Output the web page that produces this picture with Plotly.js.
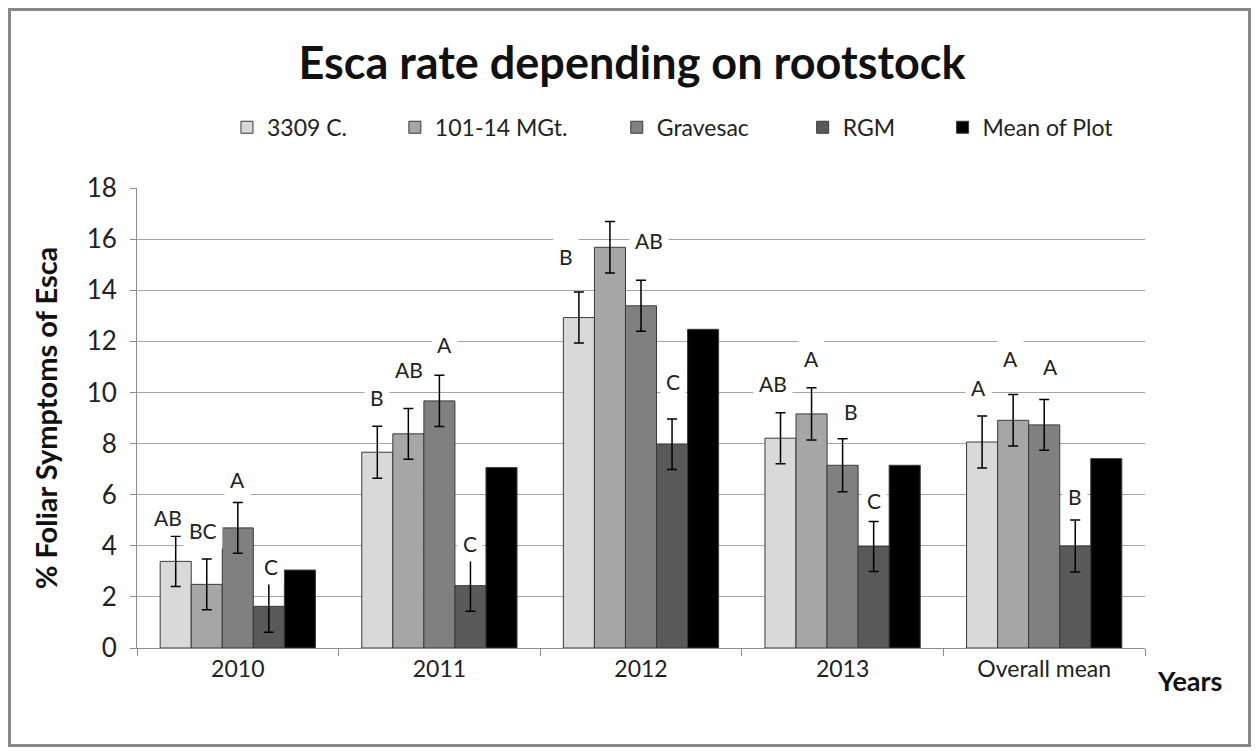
<!DOCTYPE html>
<html>
<head>
<meta charset="utf-8">
<script src="https://cdn.plot.ly/plotly-3.0.1.min.js"></script>
<style>
  html, body { margin: 0; padding: 0; background: #fff; }
  #wrap { position: relative; width: 1257px; height: 751px; }
  #chart { position: absolute; left: 0; top: 0; width: 1257px; height: 751px; }
  #frame { position: absolute; left: 8px; top: 8px; width: 1243px; height: 739px;
           border: 3px solid #878787; box-sizing: border-box; pointer-events: none; }
</style>
</head>
<body>
<div id="wrap"><div id="chart"></div><div id="frame"></div></div>
<script>
// ---- data ----
const categories = ['2010', '2011', '2012', '2013', 'Overall mean'];
const seriesNames = ['3309 C.', '101-14 MGt.', 'Gravesac', 'RGM', 'Mean of Plot'];
const v3309 = [3.39, 7.66, 12.93, 8.21, 8.06];
const v10114 = [2.49, 8.38, 15.68, 9.16, 8.91];
const vGravesac = [4.70, 9.67, 13.39, 7.15, 8.73];
const vRGM = [1.63, 2.44, 7.97, 3.97, 3.99];
const vMean = [3.05, 7.06, 12.47, 7.15, 7.41];
const e3309 = [0.98, 1.02, 1.0, 1.0, 1.02];
const e10114 = [0.99, 0.99, 1.01, 1.02, 1.01];
const eGravesac = [0.99, 1.0, 1.0, 1.04, 0.99];
const eRGM = [1.01, 1.0, 0.99, 0.98, 1.02];
const l3309 = ['AB', 'B', 'B', 'AB', 'A'];
const l10114 = ['BC', 'AB', 'A', 'A', 'A'];
const lGravesac = ['A', 'A', 'AB', 'B', 'A'];
const lRGM = ['C', 'C', 'C', 'C', 'B'];

// ---- styling / layout helpers ----
const FONT = 'Lato, "Open Sans", sans-serif';
const colors = ['#d9d9d9', '#a6a6a6', '#808080', '#595959', '#000000'];
const values = [v3309, v10114, vGravesac, vRGM, vMean];
const errors = [e3309, e10114, eGravesac, eRGM, null];
const letters = [l3309, l10114, lGravesac, lRGM];
// label nudges: horizontal (px) and vertical gap above error bar top (axis units)
const nudgeX = [[-8, 0, -13, -8, -4], [-4, 1, 0, 0, -3], [0, 5, 8, 8, 6], [2, 0, 1, 0, 0]];
const nudgeY = [[0.72, 1.14, 1.40, 1.14, 1.11], [1.13, 1.53, 1.64, 1.15, 1.41],
                [0.91, 1.22, 1.57, 1.07, 1.31], [0.53, 0.65, 1.45, 0.83, 0.90]];

const M = { l: 137, r: 111.5, t: 187.7, b: 103.3 };
const plotW = 1257 - M.l - M.r;
const plotH = 751 - M.t - M.b;
const bargap = 0.23;
const catPx = plotW / categories.length;
const barFrac = (1 - bargap) / seriesNames.length;

const traces = seriesNames.map((name, i) => {
  const t = {
    type: 'bar', name: name, x: categories, y: values[i],
    marker: { color: colors[i], line: { color: '#3a3a3a', width: 1 } },
    legend: i === 0 ? 'legend' : 'legend' + (i + 1),
    hoverinfo: 'x+y+name'
  };
  if (errors[i]) {
    t.error_y = { type: 'data', array: errors[i], visible: true, color: '#000', thickness: 1.5, width: 5 };
  }
  return t;
});

const annotations = [];
letters.forEach((arr, s) => {
  arr.forEach((txt, c) => {
    annotations.push({
      x: c + (s - 2) * barFrac + nudgeX[s][c] / catPx,
      xref: 'x', yref: 'y',
      y: values[s][c] + errors[s][c] + nudgeY[s][c],
      text: txt, showarrow: false, xanchor: 'center', yanchor: 'middle',
      font: { family: FONT, size: 21, color: '#222' },
      bgcolor: '#ffffff', borderpad: 5
    });
  });
});
annotations.push({
  x: (1190 - M.l) / plotW, y: -(680 - (751 - M.b)) / plotH,
  xref: 'paper', yref: 'paper', text: 'Years', showarrow: false,
  xanchor: 'center', yanchor: 'middle',
  font: { family: FONT, size: 27, color: '#111', weight: 'bold' }
});

// legend positions (text start px)
const legTextX = [267, 435, 657, 843, 983];
const legY = (751 - M.b - 127) / plotH;
const layout = {
  width: 1257, height: 751,
  margin: M,
  paper_bgcolor: '#fff', plot_bgcolor: '#fff',
  font: { family: FONT, color: '#222' },
  title: { text: 'Esca rate depending on rootstock', xref: 'container', yref: 'container',
           x: 632 / 1257, y: 1 - 63 / 751, xanchor: 'center', yanchor: 'middle',
           font: { family: FONT, size: 45, color: '#111', weight: 'bold' } },
  barmode: 'group', bargap: bargap, bargroupgap: 0,
  xaxis: { type: 'category', showgrid: false, showline: true, linecolor: '#8c8c8c', linewidth: 1,
           ticks: 'outside', tickson: 'boundaries', ticklen: 7, tickcolor: '#8c8c8c',
           tickfont: { family: FONT, size: 23, color: '#222' }, range: [-0.5, 4.5] },
  yaxis: { range: [0, 18], dtick: 2, tick0: 0, showgrid: true, gridcolor: '#a6a6a6', gridwidth: 1,
           showline: true, linecolor: '#8c8c8c', linewidth: 1, ticks: 'outside', ticklen: 6, tickcolor: '#8c8c8c',
           tickfont: { family: FONT, size: 26, color: '#222' }, zeroline: false, ticklabelstandoff: 8,
           title: { text: '% Foliar Symptoms of Esca', standoff: 20,
                    font: { family: FONT, size: 29, color: '#111', weight: 'bold' } } },
  annotations: annotations,
  showlegend: true
};
legTextX.forEach((tx, i) => {
  const key = i === 0 ? 'legend' : 'legend' + (i + 1);
  layout[key] = { x: (tx - 40 - M.l) / plotW, y: legY, xanchor: 'left', yanchor: 'middle',
                  orientation: 'h', bgcolor: 'rgba(0,0,0,0)', borderwidth: 0,
                  font: { family: FONT, size: 23, color: '#222' } };
});

Plotly.newPlot('chart', traces, layout, { displayModeBar: false, staticPlot: true });
</script>
</body>
</html>
